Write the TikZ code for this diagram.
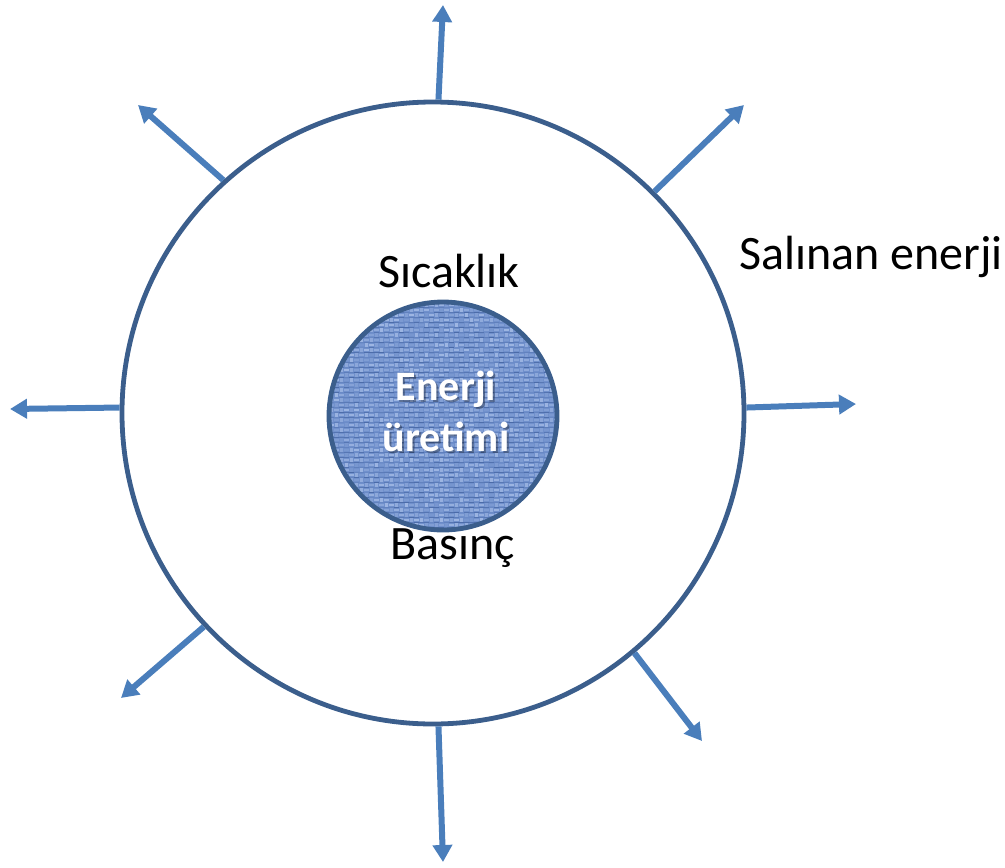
\documentclass[tikz,border=0pt]{standalone}
\usepackage{fontspec}
\setmainfont{Carlito}
\usetikzlibrary{arrows.meta}
\definecolor{rim}{HTML}{3B5E8C}
\definecolor{ray}{HTML}{4A7EBB}
\definecolor{core}{HTML}{7090CC}
\definecolor{coredark}{HTML}{2C4C8A}
\definecolor{corelight}{HTML}{B8CCF0}

\begin{document}
\begin{tikzpicture}[x=1pt,y=-1pt,
  ray/.style={draw=ray, line width=6pt, -{Triangle[width=19pt,length=17pt]}},
  lbl/.style={font=\fontsize{48}{58}\selectfont, text=black, inner sep=0pt},
  corelbl/.style={font=\fontsize{42}{51}\selectfont\bfseries, text=white, align=center, inner sep=0pt}]
\useasboundingbox (0,0) rectangle (1005,868);

% outer shell
\node[circle, draw=rim, line width=4.8pt, minimum size=622pt, inner sep=0pt] (outer) at (433,413) {};

% textured core
\begin{scope}
  \clip (443,416) circle (114pt);
  \fill[core] (443,416) circle (114pt);
  \pgfmathsetseed{11}
  \foreach \i in {0,...,46} {
    \foreach \j in {0,...,46} {
      \pgfmathsetmacro{\cx}{329+5*\i}
      \pgfmathsetmacro{\cy}{302+5*\j}
      \pgfmathsetmacro{\op}{0.1+0.55*rnd}
      \pgfmathsetmacro{\dk}{0.05+0.5*rnd}
      \pgfmathtruncatemacro{\weave}{mod(\i+\j,2)}
      \fill[coredark, opacity=\dk] (\cx,\cy) rectangle ++(5,1.3);
      \ifnum\weave=0
        \fill[corelight, opacity=\op] (\cx+0.3,\cy+1.6) rectangle ++(4.4,2.6);
      \else
        \fill[corelight, opacity=\op] (\cx+1.3,\cy+1.3) rectangle ++(2.4,3.7);
      \fi
    }
  }
\end{scope}
\node[circle, draw=rim, line width=4.8pt, minimum size=228pt, inner sep=0pt] (core) at (443,416) {};

% core caption with a soft shadow
\node[corelbl, text=black, opacity=0.3] at (448,413) {Enerji\\üretimi};
\node[corelbl] (corelabel) at (446,411) {Enerji\\üretimi};

% labels
\node[lbl] (temp) at (449,271) {Sıcaklık};
\node[lbl] (press) at (453,548) {Basınç};
\node[lbl] (released) at (871,257) {Salınan enerji};

% radiated energy
\coordinate (tN) at (443,5);
\coordinate (tNE) at (744,105);
\coordinate (tE) at (856,404);
\coordinate (tSE) at (702,741);
\coordinate (tS) at (443,862);
\coordinate (tSW) at (121,698);
\coordinate (tW) at (10,409);
\coordinate (tNW) at (138,105);

\draw[ray] (outer.89) -- (tN);
\draw[ray] (outer.45) -- (tNE);
\draw[ray] (outer.1) -- (tE);
\draw[ray] (outer.-50) -- (tSE);
\draw[ray] (outer.-89) -- (tS);
\draw[ray] (outer.223) -- (tSW);
\draw[ray] (outer.179.3) -- (tW);
\draw[ray] (outer.132) -- (tNW);
\end{tikzpicture}
\end{document}
